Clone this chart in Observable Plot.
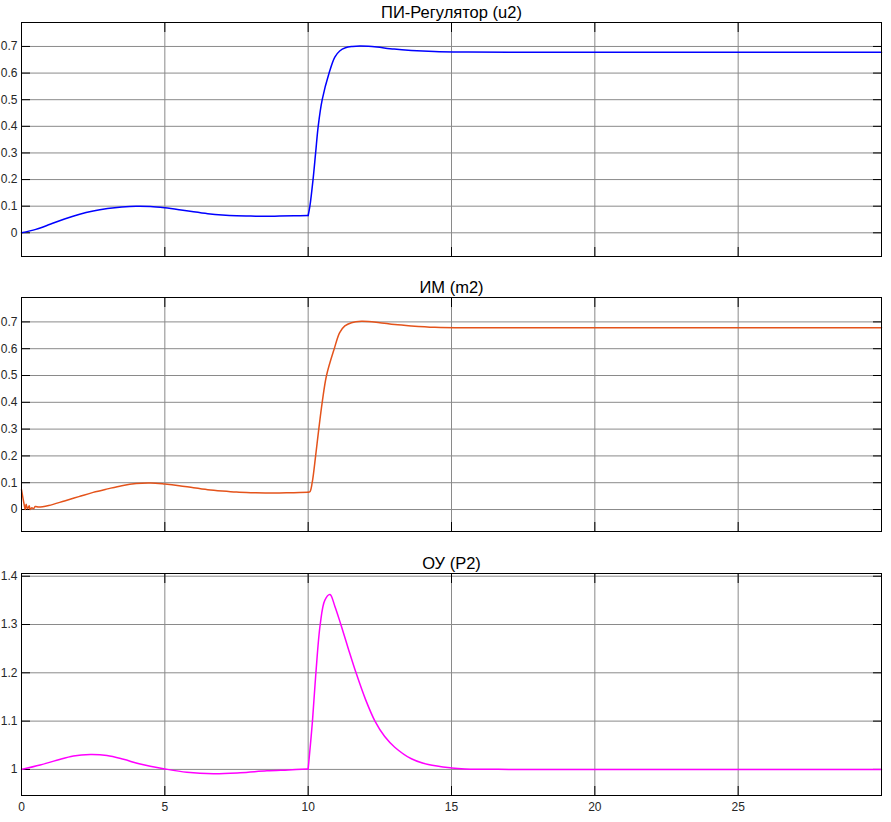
<!DOCTYPE html>
<html><head><meta charset="utf-8">
<script src="https://cdn.jsdelivr.net/npm/d3@7"></script>
<script src="https://cdn.jsdelivr.net/npm/@observablehq/plot@0.6"></script>
<style>
body{margin:0;background:#fff;}
#wrap{position:relative;width:891px;height:822px;background:#fff;}
#wrap svg{position:absolute;left:0;}
</style></head><body><div id="wrap"></div>
<script>
// ---- Data ----
const titles = ["ПИ-Регулятор (u2)", "ИМ (m2)", "ОУ (P2)"];
const xTicks = [0, 5, 10, 15, 20, 25, 30];
const xTickLabels = [0, 5, 10, 15, 20, 25];
const yTicksM = [0, 0.1, 0.2, 0.3, 0.4, 0.5, 0.6, 0.7];
const yTicksP = [1, 1.1, 1.2, 1.3, 1.4];
const stepTime = 10; // set-point step

const tU2 = [0,0.5,1,1.5,2,2.5,3,3.5,4,4.5,5,5.5,6,6.5,7,7.5,8,8.5,9,9.5,10,10.06,10.17,10.26,10.35,10.49,10.73,10.93,11.1,11.3,11.55,11.8,12.1,12.4,13,13.6,14.4,15.5,17,20,25,30];
const u2  = [0,0.013,0.032,0.052,0.069,0.082,0.091,0.097,0.1,0.099,0.094,0.087,0.079,0.072,0.067,0.064,0.063,0.062,0.063,0.064,0.065,0.1,0.2,0.3,0.4,0.5,0.6,0.66,0.683,0.695,0.7,0.702,0.701,0.698,0.69,0.685,0.681,0.679,0.678,0.678,0.678,0.678];

const tM2 = [0,0.09,0.13,0.16,0.21,0.27,0.3,0.36,0.42,0.48,0.6,0.95,1.5,2,2.5,3,3.5,4,4.5,5,5.5,6,6.5,7,7.5,8,8.5,9,9.5,10,10.06,10.14,10.26,10.37,10.49,10.64,10.91,11.1,11.28,11.51,11.86,12.44,13.02,13.6,14.42,15.47,17,20,25,30];
const m2  = [0.074,0.02,0.0,0.02,0.003,0.014,0.0,0.007,0.003,0.011,0.009,0.015,0.032,0.048,0.064,0.077,0.089,0.097,0.099,0.095,0.089,0.081,0.074,0.069,0.065,0.063,0.062,0.062,0.063,0.064,0.066,0.1,0.2,0.3,0.4,0.5,0.6,0.66,0.685,0.697,0.702,0.698,0.69,0.685,0.68,0.678,0.678,0.678,0.678,0.678];

const tP2 = [0,0.65,1.23,1.81,2.4,2.98,3.56,4.14,5,5.77,6.7,7.63,8.56,9.3,10,10.15,10.27,10.42,10.58,10.76,10.93,11.14,11.4,11.67,12.0,12.33,12.67,13.02,13.6,14.19,15,15.47,17,20,25,30];
const P2  = [1,1.009,1.019,1.028,1.031,1.029,1.021,1.011,1.001,0.994,0.991,0.993,0.997,0.999,1.001,1.1,1.2,1.3,1.35,1.362,1.338,1.3,1.25,1.2,1.145,1.1,1.068,1.046,1.022,1.01,1.003,1.001,1.0,1.0,1.0,1.0];

// ---- Drawing ----
const wrap = document.getElementById("wrap");
const gridColor = "#8a8a8a";

function panel({title, t, v, color, yDomain, yTicks, top, height, mt, mb, xLabels}) {
  const data = [];
  t.forEach((x, i) => {
    data.push({t: x, v: v[i], seg: x <= stepTime ? 0 : 1});
    if (x === stepTime) data.push({t: x, v: v[i], seg: 1});
  });
  const inner = xTicks.filter(d => d > 0 && d < 30);
  const marks = [
    Plot.gridX(inner, {stroke: gridColor, strokeOpacity: 1}),
    Plot.gridY(yTicks, {stroke: gridColor, strokeOpacity: 1}),
    Plot.axisY(yTicks, {anchor: "left", tickSize: -9, tickFormat: () => "", label: null, stroke: "#000"}),
    Plot.axisY(yTicks, {anchor: "right", tickSize: -9, tickFormat: () => "", label: null, stroke: "#000"}),
    Plot.axisY(yTicks, {anchor: "left", tickSize: 0, tickPadding: 4, label: null, tickFormat: d => String(d), fill: "#262626"}),
    Plot.axisX(inner, {anchor: "bottom", tickSize: -9, tickFormat: () => "", label: null, stroke: "#000"}),
    Plot.axisX(inner, {anchor: "top", tickSize: -9, tickFormat: () => "", label: null, stroke: "#000"}),
    Plot.line(data, {x: "t", y: "v", z: "seg", stroke: color, strokeWidth: 1.5, curve: "catmull-rom"}),
    Plot.frame({stroke: "#000"}),
    Plot.text([title], {text: d => d, frameAnchor: "top", lineAnchor: "bottom", dy: -5, fontSize: 16.5, fill: "#000"})
  ];
  if (xLabels) marks.push(Plot.axisX(xLabels, {anchor: "bottom", tickSize: 0, tickPadding: 7, label: null, tickFormat: d => String(d), fill: "#262626"}));
  const svg = Plot.plot({
    width: 891, height,
    marginLeft: 21, marginRight: 10, marginTop: mt, marginBottom: mb,
    x: {domain: [0, 30]},
    y: {domain: yDomain},
    style: {fontFamily: "'Liberation Sans', Arial, sans-serif", fontSize: "12px", background: "transparent", color: "#000"},
    marks
  });
  svg.style.top = top + "px";
  wrap.appendChild(svg);
}

panel({title: titles[0], t: tU2, v: u2, color: "#0000ff", yDomain: [-0.089, 0.79], yTicks: yTicksM, top: 0, height: 270, mt: 22, mb: 14});
panel({title: titles[1], t: tM2, v: m2, color: "#e4531b", yDomain: [-0.082, 0.791], yTicks: yTicksM, top: 270, height: 270, mt: 27, mb: 9});
panel({title: titles[2], t: tP2, v: P2, color: "#ff00ff", yDomain: [0.946, 1.4056], yTicks: yTicksP, top: 540, height: 282, mt: 33, mb: 27, xLabels: xTickLabels});
</script></body></html>
